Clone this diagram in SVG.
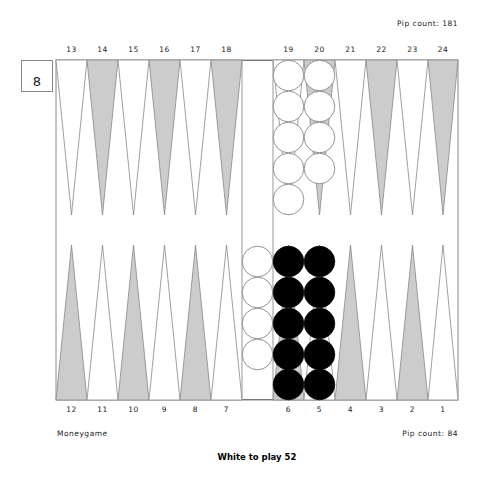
<svg xmlns="http://www.w3.org/2000/svg" width="480" height="480" viewBox="0 0 480 480">
<defs>
<style>
.t{font-family:"DejaVu Sans",sans-serif;font-size:7.5px;fill:#222;text-anchor:middle;letter-spacing:0.5px}
.pw{fill:#fff;stroke:#888;stroke-width:0.8}
.pg{fill:#ccc;stroke:#888;stroke-width:0.8}
.cw{fill:#fff;stroke:#777;stroke-width:0.8}
.cb{fill:#000;stroke:#000;stroke-width:0.8}
</style>
</defs>
<rect width="480" height="480" fill="#fff"/>
<g id="board">
<rect x="56" y="60" width="402" height="340" fill="#fff" stroke="#888" stroke-width="1"/>
<line x1="56" y1="60.5" x2="458" y2="60.5" stroke="#777" stroke-width="1"/>
<line x1="56" y1="399.5" x2="458" y2="399.5" stroke="#777" stroke-width="1"/>
</g>
<g id="points-top">
<polygon class="pw" points="56,60 87,60 71.5,215"/>
<polygon class="pg" points="87,60 118,60 102.5,215"/>
<polygon class="pw" points="118,60 149,60 133.5,215"/>
<polygon class="pg" points="149,60 180,60 164.5,215"/>
<polygon class="pw" points="180,60 211,60 195.5,215"/>
<polygon class="pg" points="211,60 242,60 226.5,215"/>
<polygon class="pw" points="273,60 304,60 288.5,215"/>
<polygon class="pg" points="304,60 335,60 319.5,215"/>
<polygon class="pw" points="335,60 366,60 350.5,215"/>
<polygon class="pg" points="366,60 397,60 381.5,215"/>
<polygon class="pw" points="397,60 428,60 412.5,215"/>
<polygon class="pg" points="428,60 458,60 443,215"/>
</g>
<g id="points-bottom">
<polygon class="pg" points="56,400 87,400 71.5,245"/>
<polygon class="pw" points="87,400 118,400 102.5,245"/>
<polygon class="pg" points="118,400 149,400 133.5,245"/>
<polygon class="pw" points="149,400 180,400 164.5,245"/>
<polygon class="pg" points="180,400 211,400 195.5,245"/>
<polygon class="pw" points="211,400 242,400 226.5,245"/>
<polygon class="pg" points="273,400 304,400 288.5,245"/>
<polygon class="pw" points="304,400 335,400 319.5,245"/>
<polygon class="pg" points="335,400 366,400 350.5,245"/>
<polygon class="pw" points="366,400 397,400 381.5,245"/>
<polygon class="pg" points="397,400 428,400 412.5,245"/>
<polygon class="pw" points="428,400 458,400 443,245"/>
</g>
<g id="bar">
<line x1="242" y1="60" x2="242" y2="400" stroke="#999" stroke-width="1"/>
<line x1="273" y1="60" x2="273" y2="400" stroke="#999" stroke-width="1"/>
</g>
<g id="checkers-white">
<circle class="cw" cx="288.5" cy="75.5" r="15.3"/>
<circle class="cw" cx="288.5" cy="106.5" r="15.3"/>
<circle class="cw" cx="288.5" cy="137.5" r="15.3"/>
<circle class="cw" cx="288.5" cy="168.5" r="15.3"/>
<circle class="cw" cx="288.5" cy="199.5" r="15.3"/>
<circle class="cw" cx="319.5" cy="75.5" r="15.3"/>
<circle class="cw" cx="319.5" cy="106.5" r="15.3"/>
<circle class="cw" cx="319.5" cy="137.5" r="15.3"/>
<circle class="cw" cx="319.5" cy="168.5" r="15.3"/>
<circle class="cw" cx="257.5" cy="261.5" r="15.3"/>
<circle class="cw" cx="257.5" cy="292.5" r="15.3"/>
<circle class="cw" cx="257.5" cy="323.5" r="15.3"/>
<circle class="cw" cx="257.5" cy="354.5" r="15.3"/>
</g>
<g id="checkers-black">
<circle class="cb" cx="288.5" cy="261.5" r="15.3"/>
<circle class="cb" cx="288.5" cy="292.5" r="15.3"/>
<circle class="cb" cx="288.5" cy="323.5" r="15.3"/>
<circle class="cb" cx="288.5" cy="354.5" r="15.3"/>
<circle class="cb" cx="288.5" cy="384.5" r="15.3"/>
<circle class="cb" cx="319.5" cy="261.5" r="15.3"/>
<circle class="cb" cx="319.5" cy="292.5" r="15.3"/>
<circle class="cb" cx="319.5" cy="323.5" r="15.3"/>
<circle class="cb" cx="319.5" cy="354.5" r="15.3"/>
<circle class="cb" cx="319.5" cy="384.5" r="15.3"/>
</g>
<g id="cube">
<rect x="21.5" y="60.5" width="31" height="31" fill="#fff" stroke="#888" stroke-width="1"/>
<text x="37" y="86" font-family="DejaVu Sans, sans-serif" font-size="13" text-anchor="middle" fill="#222">8</text>
</g>
<g id="labels-top">
<text class="t" x="71.5" y="52">13</text>
<text class="t" x="102.5" y="52">14</text>
<text class="t" x="133.5" y="52">15</text>
<text class="t" x="164.5" y="52">16</text>
<text class="t" x="195.5" y="52">17</text>
<text class="t" x="226.5" y="52">18</text>
<text class="t" x="288.5" y="52">19</text>
<text class="t" x="319.5" y="52">20</text>
<text class="t" x="350.5" y="52">21</text>
<text class="t" x="381.5" y="52">22</text>
<text class="t" x="412.5" y="52">23</text>
<text class="t" x="443" y="52">24</text>
</g>
<g id="labels-bottom">
<text class="t" x="71.5" y="412">12</text>
<text class="t" x="102.5" y="412">11</text>
<text class="t" x="133.5" y="412">10</text>
<text class="t" x="164.5" y="412">9</text>
<text class="t" x="195.5" y="412">8</text>
<text class="t" x="226.5" y="412">7</text>
<text class="t" x="288.5" y="412">6</text>
<text class="t" x="319.5" y="412">5</text>
<text class="t" x="350.5" y="412">4</text>
<text class="t" x="381.5" y="412">3</text>
<text class="t" x="412.5" y="412">2</text>
<text class="t" x="443" y="412">1</text>
</g>
<g id="info">
<text class="t" x="458" y="26" style="text-anchor:end">Pip count: 181</text>
<text class="t" x="57" y="436" style="text-anchor:start">Moneygame</text>
<text class="t" x="458" y="436" style="text-anchor:end">Pip count: 84</text>
<text x="257" y="460" font-family="DejaVu Sans, sans-serif" font-size="8.5" font-weight="bold" text-anchor="middle" fill="#000">White to play 52</text>
</g>
</svg>
